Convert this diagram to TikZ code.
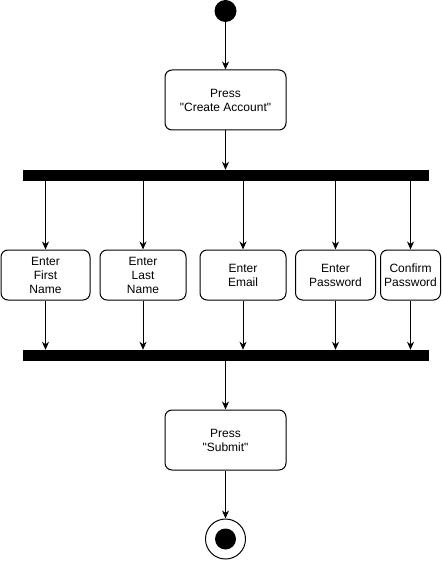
\documentclass[tikz,border=0pt]{standalone}
\usepackage{fontspec}
\setmainfont{Liberation Sans}[Ligatures=TeXOff]
\usetikzlibrary{arrows.meta}
\begin{document}
\begin{tikzpicture}[x=1pt,y=-1pt,
  act/.style={draw=black,line width=1pt,rounded corners=7pt,fill=white,align=center,
    inner sep=0pt,font=\fontsize{12pt}{14pt}\selectfont},
  bar/.style={fill=black,draw=none,minimum width=406pt,minimum height=11pt,inner sep=0pt},
  arr/.style={draw=black,line width=1pt,-{Stealth[length=8pt,width=7pt,inset=2.5pt]}}]
\useasboundingbox (0,0) rectangle (441,561);
\node[circle,fill=black,minimum size=22pt,inner sep=0pt] (start) at (225.5,11) {};
\node[act,minimum width=121pt,minimum height=60pt] (create) at (225.5,100) {Press\\"Create Account"};
\node[bar] (fork) at (226,175.5) {};
\node[act,minimum width=89pt,minimum height=50pt] (b1) at (45.5,275) {Enter\\First\\Name};
\node[act,minimum width=86pt,minimum height=50pt] (b2) at (143,275) {Enter\\Last\\Name};
\node[act,minimum width=86pt,minimum height=50pt] (b3) at (243,275) {Enter\\Email};
\node[act,minimum width=80pt,minimum height=50pt] (b4) at (335.5,275) {Enter\\Password};
\node[act,minimum width=60pt,minimum height=50pt] (b5) at (410.5,275) {Confirm\\Password};
\node[bar] (join) at (226,355.5) {};
\node[act,minimum width=121pt,minimum height=60pt] (submit) at (225.5,440) {Press\\"Submit"};
\node[circle,draw=black,line width=1pt,fill=white,minimum size=40pt,inner sep=0pt] (end) at (225.5,539) {};
\node[circle,fill=black,minimum size=21pt,inner sep=0pt] (endin) at (end.center) {};
\draw[arr] (start.south) -- (create.north);
\draw[arr] (create.south) -- (create.south |- fork.north);
\foreach \b in {b1,b2,b3,b4,b5}{
  \draw[arr] (\b.north |- fork.south) -- (\b.north);
  \draw[arr] (\b.south) -- (\b.south |- join.north);
}
\draw[arr] (submit.north |- join.south) -- (submit.north);
\draw[arr] (submit.south) -- (end.north);
\end{tikzpicture}
\end{document}
